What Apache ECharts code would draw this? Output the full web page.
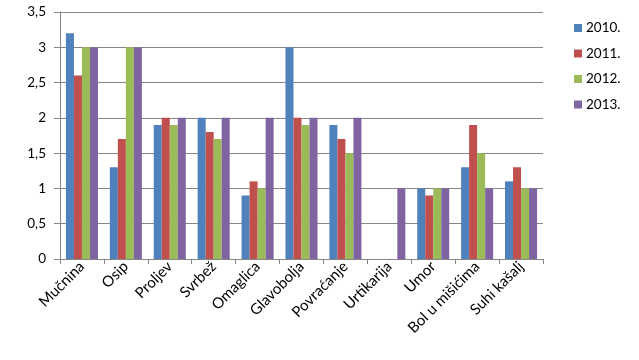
<!DOCTYPE html>
<html><head><meta charset="utf-8">
<script src="https://cdn.jsdelivr.net/npm/echarts@6/dist/echarts.min.js"></script>
<style>html,body{margin:0;padding:0;background:#fff}#c{width:639px;height:360px}</style>
</head><body><div id="c"></div>
<script>
const categories = ['Mučnina','Osip','Proljev','Svrbež','Omaglica','Glavobolja','Povraćanje','Urtikarija','Umor','Bol u mišićima','Suhi kašalj'];
const s2010 = [3.2, 1.3, 1.9, 2.0, 0.9, 3.0, 1.9, null, 1.0, 1.3, 1.1];
const s2011 = [2.6, 1.7, 2.0, 1.8, 1.1, 2.0, 1.7, null, 0.9, 1.9, 1.3];
const s2012 = [3.0, 3.0, 1.9, 1.7, 1.0, 1.9, 1.5, null, 1.0, 1.5, 1.0];
const s2013 = [3.0, 3.0, 2.0, 2.0, 2.0, 2.0, 2.0, 1.0, 1.0, 1.0, 1.0];
const seriesNames = ['2010.','2011.','2012.','2013.'];
const colors = ['#4F81BD','#C0504D','#9BBB59','#8064A2'];
const font = 'Lato, "Liberation Sans", sans-serif';
const chart = echarts.init(document.getElementById('c'));
const data = [s2010, s2011, s2012, s2013];
chart.setOption({
  animation: false,
  color: colors,
  textStyle: {fontFamily: font},
  grid: {left: 60, right: 96, top: 12, bottom: 101, containLabel: false},
  legend: {
    orient: 'vertical', left: 569, top: 16, itemWidth: 8, itemHeight: 8, itemGap: 11.5,
    icon: 'rect', textStyle: {fontSize: 13.5, color: '#000', fontFamily: font, padding: [0,0,0,-1]},
    data: seriesNames
  },
  xAxis: {
    type: 'category', data: categories,
    axisLine: {lineStyle: {color: '#868686'}},
    axisTick: {show: true, length: 5, lineStyle: {color: '#868686'}},
    axisLabel: {rotate: 45, fontSize: 15, color: '#000', interval: 0, margin: 5, fontFamily: font}
  },
  yAxis: {
    type: 'value', min: 0, max: 3.5, interval: 0.5,
    axisLine: {show: true, lineStyle: {color: '#868686'}},
    axisTick: {show: true, length: 6, lineStyle: {color: '#868686'}},
    splitLine: {lineStyle: {color: '#868686'}},
    axisLabel: {fontSize: 13.5, color: '#000', margin: 14, fontFamily: font,
      formatter: v => String(v).replace('.', ',')}
  },
  series: data.map((d, i) => ({
    name: seriesNames[i], type: 'bar', data: d,
    barGap: '0%', barCategoryGap: '27%'
  }))
});
</script></body></html>
